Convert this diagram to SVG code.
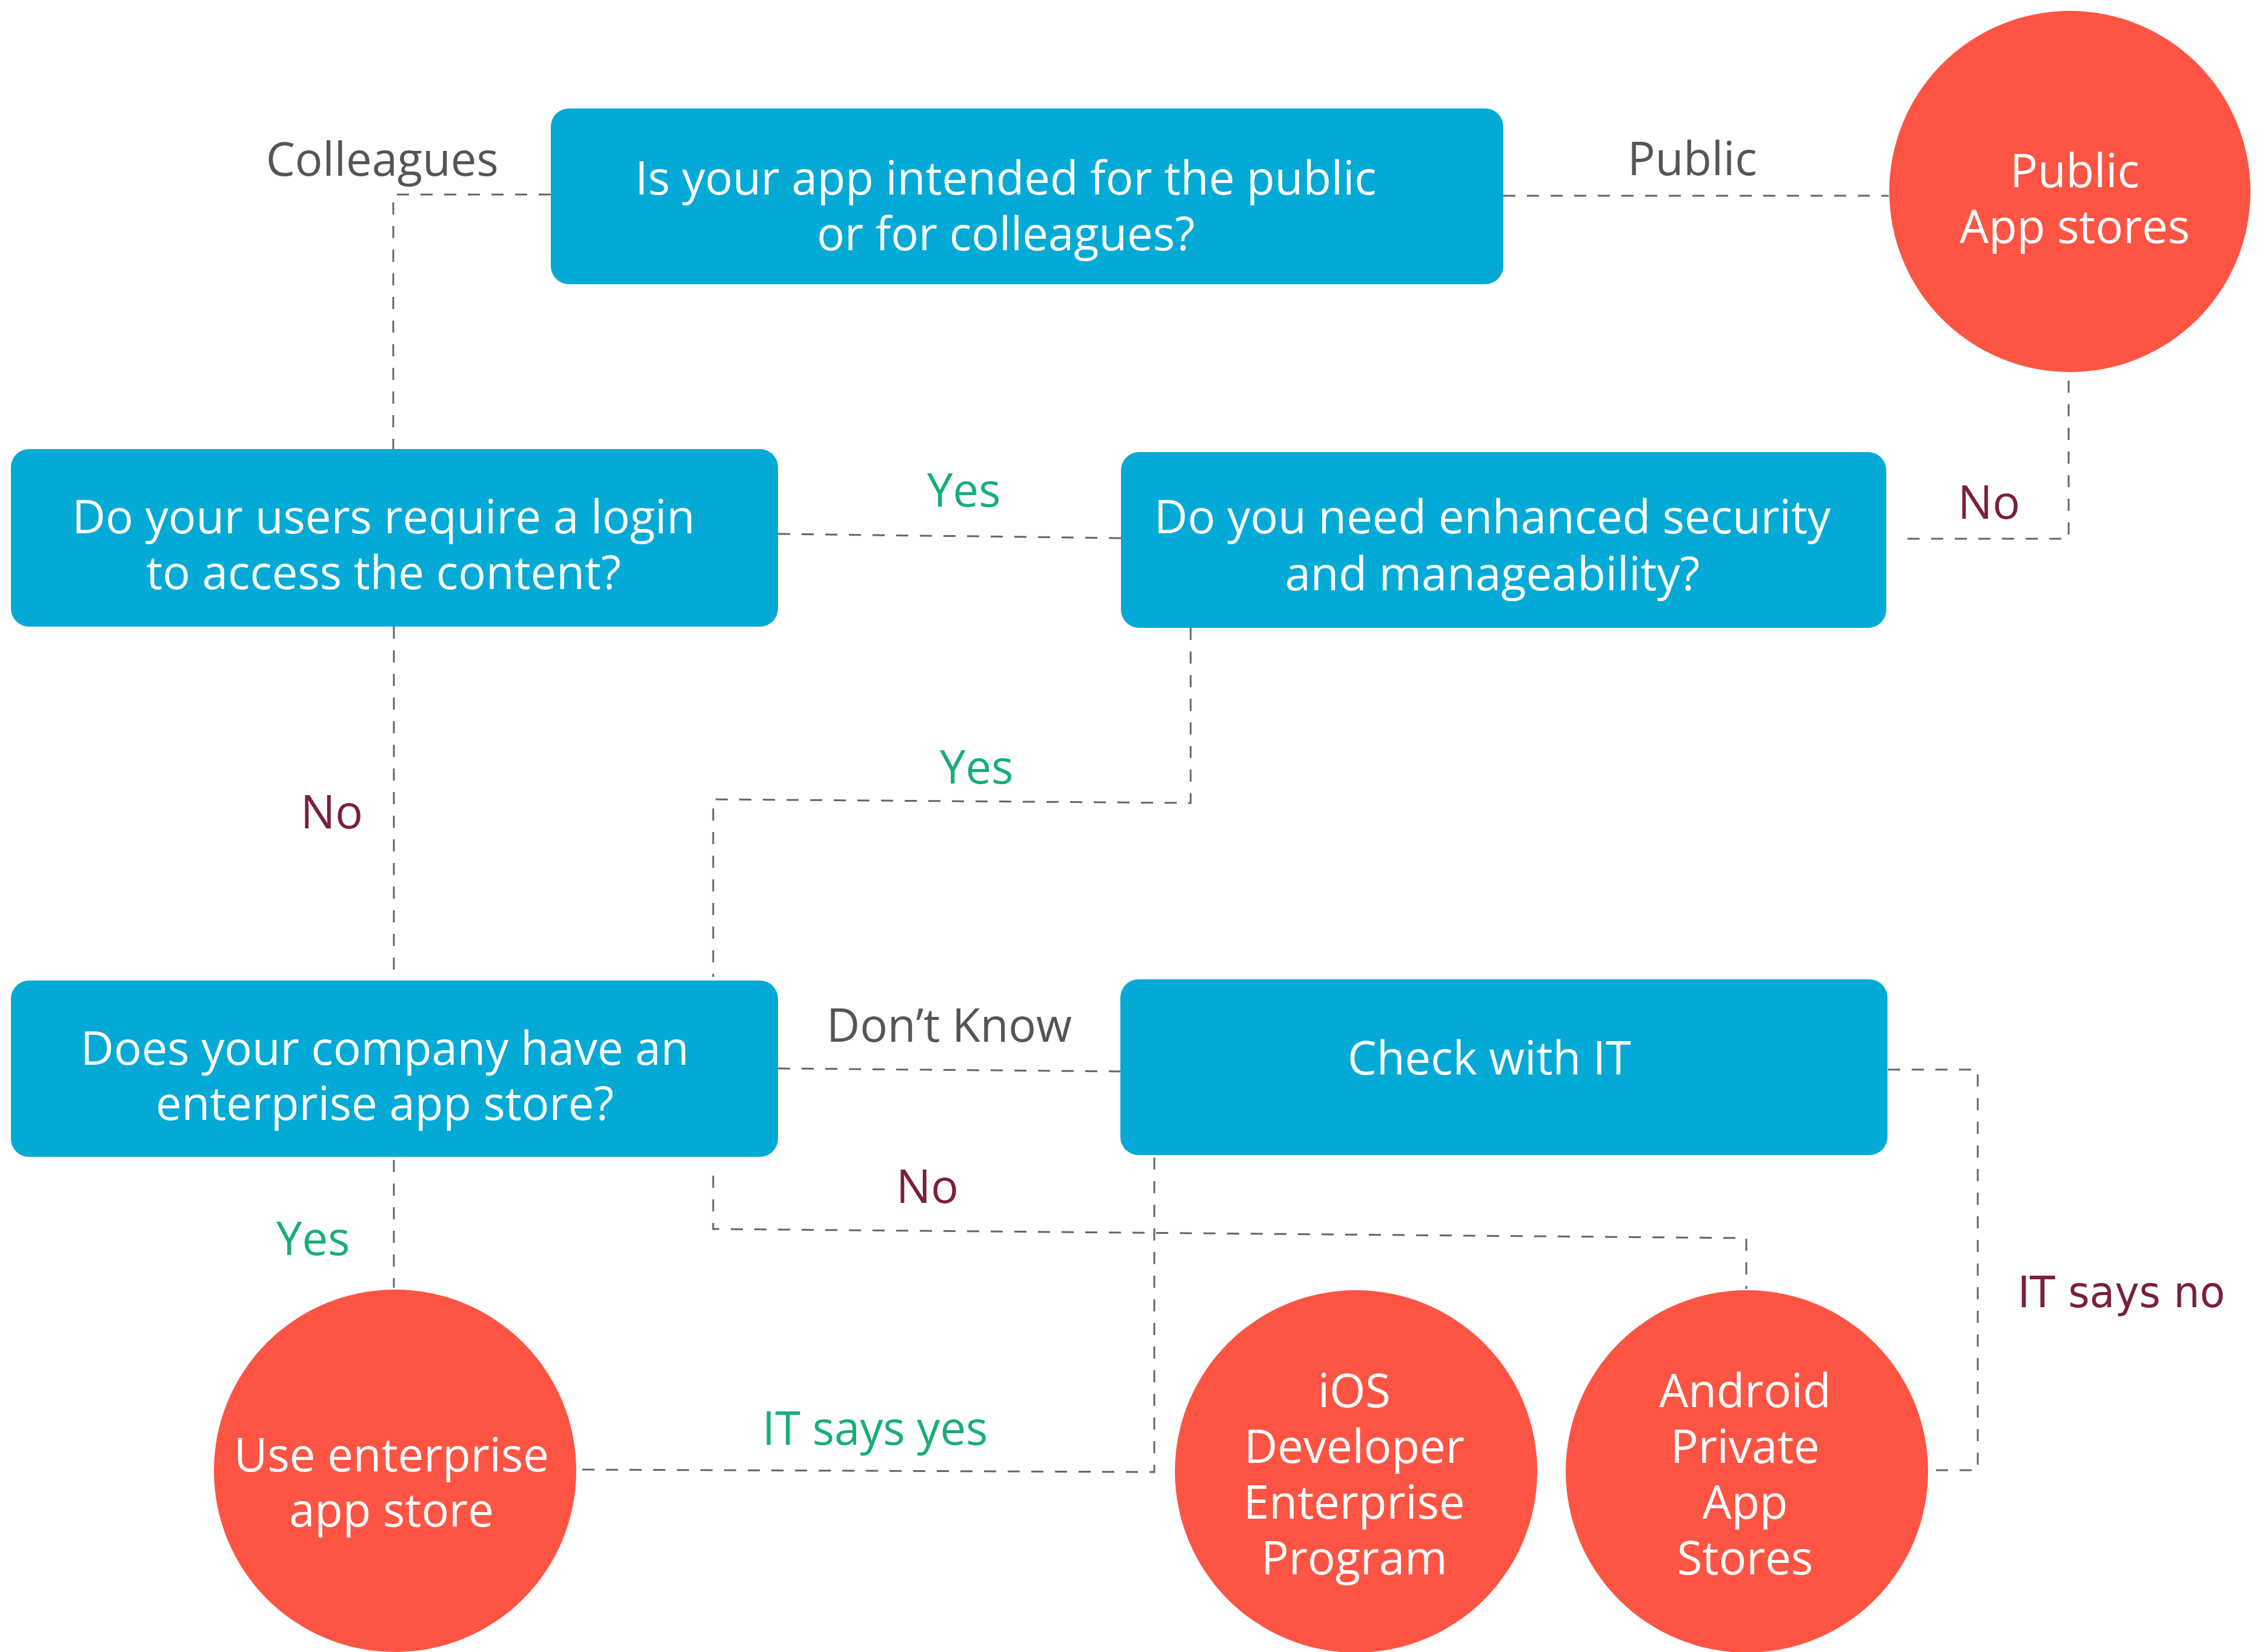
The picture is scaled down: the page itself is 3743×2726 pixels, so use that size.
<svg xmlns="http://www.w3.org/2000/svg" width="3743" height="2726" viewBox="0 0 3743 2726">
  <style>
    .box { fill: #02aad5; }
    .end { fill: #fe5443; }
    .node-text { font-family: "Open Sans", "Noto Sans", "Liberation Sans", sans-serif; font-size: 76px; fill: #ffffff; text-anchor: middle; }
    .edge { fill: none; stroke: #666666; stroke-width: 3; stroke-dasharray: 20 19; }
    .lbl { font-family: "Open Sans", "Noto Sans", "Liberation Sans", sans-serif; font-size: 76px; }
    .gray { fill: #555555; }
    .green { fill: #17ad7c; }
    .maroon { fill: #7a1f3d; }
  </style>
  <rect width="3743" height="2726" fill="#ffffff"/>

  <!-- connectors -->
  <g id="connectors">
    <path class="edge" d="M909 321 H649 V741"/>
    <path class="edge" d="M2481 323 H3117"/>
    <path class="edge" d="M3414 628 V889 H3129"/>
    <path class="edge" d="M1284 881 L1850 888"/>
    <path class="edge" d="M650 1034 V1618"/>
    <path class="edge" d="M1965 1036 V1325 L1177 1319 V1612"/>
    <path class="edge" d="M1284 1763 L1849 1768"/>
    <path class="edge" d="M1177 1940 V2028 L2882 2043 V2127"/>
    <path class="edge" d="M650 1914 V2125"/>
    <path class="edge" d="M1905 1910 V2429 L955 2425"/>
    <path class="edge" d="M3116 1765 H3264 V2426 H3182"/>
  </g>

  <!-- connector labels -->
  <g id="labels">
    <text class="lbl gray" x="439" y="290">Colleagues</text>
    <text class="lbl gray" x="2686" y="289">Public</text>
    <text class="lbl green" x="1530" y="836">Yes</text>
    <text class="lbl maroon" x="3231" y="856">No</text>
    <text class="lbl maroon" x="496" y="1367">No</text>
    <text class="lbl green" x="1551" y="1293">Yes</text>
    <text class="lbl gray" x="1364" y="1719">Don’t Know</text>
    <text class="lbl maroon" x="1479" y="1985">No</text>
    <text class="lbl green" x="456" y="2071">Yes</text>
    <text class="lbl green" x="1258" y="2384">IT says yes</text>
    <text class="maroon" x="3330" y="2157" font-family="DejaVu Sans, Verdana, sans-serif" font-size="72" textLength="342" lengthAdjust="spacingAndGlyphs">IT says no</text>
  </g>

  <!-- decision boxes -->
  <g id="q-audience">
    <rect class="box" x="909" y="179" width="1572" height="290" rx="30"/>
    <text class="node-text" x="1660" y="321">Is your app intended for the public</text>
    <text class="node-text" x="1660" y="413">or for colleagues?</text>
  </g>
  <g id="q-login">
    <rect class="box" x="18" y="741" width="1266" height="293" rx="30"/>
    <text class="node-text" x="633" y="880">Do your users require a login</text>
    <text class="node-text" x="633" y="972">to access the content?</text>
  </g>
  <g id="q-security">
    <rect class="box" x="1850" y="746" width="1263" height="290" rx="30"/>
    <text class="node-text" x="2463" y="880">Do you need enhanced security</text>
    <text class="node-text" x="2463" y="974">and manageability?</text>
  </g>
  <g id="q-store">
    <rect class="box" x="18" y="1618" width="1266" height="291" rx="30"/>
    <text class="node-text" x="635" y="1757">Does your company have an</text>
    <text class="node-text" x="635" y="1848">enterprise app store?</text>
  </g>
  <g id="check-it">
    <rect class="box" x="1849" y="1616" width="1266" height="290" rx="30"/>
    <text class="node-text" x="2458" y="1773">Check with IT</text>
  </g>

  <!-- outcomes -->
  <g id="public-stores">
    <circle class="end" cx="3416" cy="316" r="298"/>
    <text class="node-text" x="3424" y="309">Public</text>
    <text class="node-text" x="3424" y="401">App stores</text>
  </g>
  <g id="enterprise-store">
    <circle class="end" cx="652" cy="2427" r="299"/>
    <text class="node-text" x="646" y="2428">Use enterprise</text>
    <text class="node-text" x="646" y="2519">app store</text>
  </g>
  <g id="ios-program">
    <circle class="end" cx="2238" cy="2428" r="299"/>
    <text class="node-text" x="2235" y="2322">iOS</text>
    <text class="node-text" x="2235" y="2414">Developer</text>
    <text class="node-text" x="2235" y="2506">Enterprise</text>
    <text class="node-text" x="2235" y="2598">Program</text>
  </g>
  <g id="android-private">
    <circle class="end" cx="2883" cy="2428" r="299"/>
    <text class="node-text" x="2880" y="2322">Android</text>
    <text class="node-text" x="2880" y="2414">Private</text>
    <text class="node-text" x="2880" y="2506">App</text>
    <text class="node-text" x="2880" y="2598">Stores</text>
  </g>
</svg>
